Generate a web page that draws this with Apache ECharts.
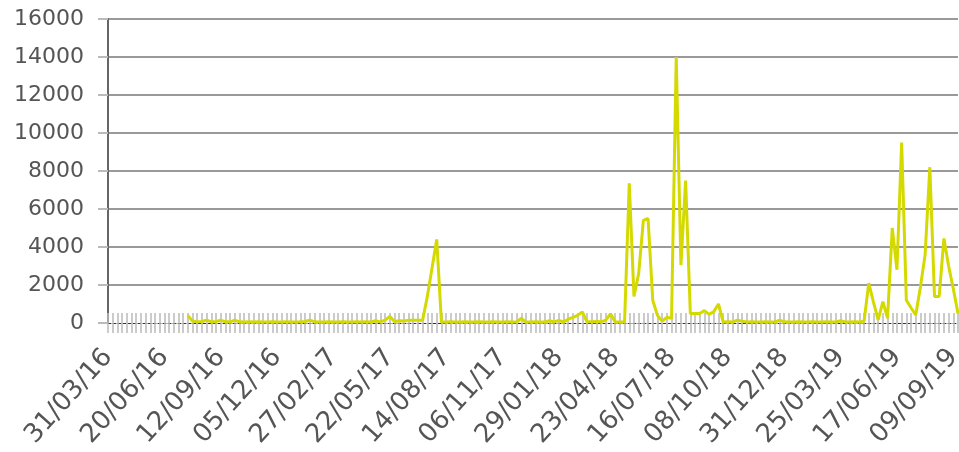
<!DOCTYPE html>
<html>
<head>
<meta charset="utf-8">
<script src="https://cdn.jsdelivr.net/npm/echarts@6/dist/echarts.min.js"></script>
<style>
  html, body { margin: 0; padding: 0; background: #fff; }
  #main { width: 959px; height: 452px; }
</style>
</head>
<body>
<div id="main"></div>
<script>
// weekly categories: first point 31/03/16, then Mondays from 04/04/16
const firstDay = '31/03/16';
const weekStart = new Date(2016, 3, 4);
const weekCount = 181;

const yTicks = [0, 2000, 4000, 6000, 8000, 10000, 12000, 14000, 16000];

// values, one per week (null = no data yet)
const values = [
  null, null, null, null, null, null, null, null, null, null,
  null, null, null, null, null, null, null, 400, 100, 60,
  80, 150, 60, 70, 150, 60, 60, 150, 60, 50,
  60, 50, 60, 50, 50, 60, 50, 50, 60, 50,
  50, 60, 80, 150, 60, 50, 50, 60, 50, 50,
  60, 50, 50, 60, 50, 60, 50, 120, 60, 150,
  350, 80, 120, 100, 150, 140, 150, 150, 1400, 2900,
  4400, 50, 50, 60, 50, 50, 60, 50, 50, 60,
  50, 50, 60, 50, 50, 60, 50, 50, 250, 50,
  50, 60, 50, 50, 120, 60, 130, 60, 200, 300,
  400, 580, 60, 60, 80, 60, 150, 480, 60, 50,
  50, 7350, 1400, 2600, 5400, 5500, 1200, 400, 100, 300,
  250, 14000, 3050, 7500, 500, 500, 500, 650, 450, 600,
  1000, 50, 60, 50, 150, 100, 50, 60, 50, 50,
  60, 50, 50, 150, 60, 50, 50, 60, 50, 50,
  60, 50, 50, 60, 50, 50, 120, 50, 50, 60,
  50, 100, 2100, 1100, 160, 1120, 260, 5000, 2800, 9500,
  1200, 800, 420, 1900, 3600, 8200, 1400, 1400, 4450, 3000,
  1800, 500
];

function pad(n) { return (n < 10 ? '0' : '') + n; }
const categories = [firstDay];
for (let i = 0; i < weekCount; i++) {
  const d = new Date(weekStart.getTime());
  d.setDate(d.getDate() + 7 * i);
  categories.push(pad(d.getDate()) + '/' + pad(d.getMonth() + 1) + '/' + String(d.getFullYear()).slice(2));
}

const chart = echarts.init(document.getElementById('main'));

chart.setOption({
  animation: false,
  grid: { left: 108, right: 1, top: 19, bottom: 129, outerBoundsMode: 'none' },
  xAxis: [
    {
      type: 'category',
      data: categories,
      boundaryGap: false,
      axisLine: { lineStyle: { color: '#333', width: 1, type: [3, 2] } },
      axisTick: { show: true, interval: 0, length: 10, lineStyle: { color: '#bbb', width: 1.5 } },
      axisLabel: {
        interval: 11, rotate: 48, margin: 30,
        fontFamily: 'DejaVu Sans', fontSize: 26, color: '#555'
      }
    },
    {
      type: 'category',
      data: categories,
      boundaryGap: false,
      position: 'bottom',
      axisLine: { show: false },
      axisTick: { show: true, inside: true, interval: 0, length: 10, lineStyle: { color: '#bbb', width: 1.5 } },
      axisLabel: { show: false }
    }
  ],
  yAxis: {
    type: 'value',
    min: yTicks[0],
    max: yTicks[yTicks.length - 1],
    interval: 2000,
    axisLine: { show: true, lineStyle: { color: '#666', width: 2 } },
    axisTick: { show: true, length: 10, lineStyle: { color: '#bbb', width: 2 } },
    axisLabel: {
      margin: 24, fontFamily: 'DejaVu Sans', fontSize: 22, color: '#555',
      formatter: function (v) { return String(v); }
    },
    splitLine: { show: true, showMinLine: false, lineStyle: { color: '#999', width: 2 } }
  },
  series: [{
    type: 'line',
    xAxisIndex: 0,
    data: values,
    showSymbol: false,
    lineStyle: { color: '#d4d900', width: 3 },
    itemStyle: { color: '#d4d900' },
    z: 3
  }]
});
</script>
</body>
</html>
